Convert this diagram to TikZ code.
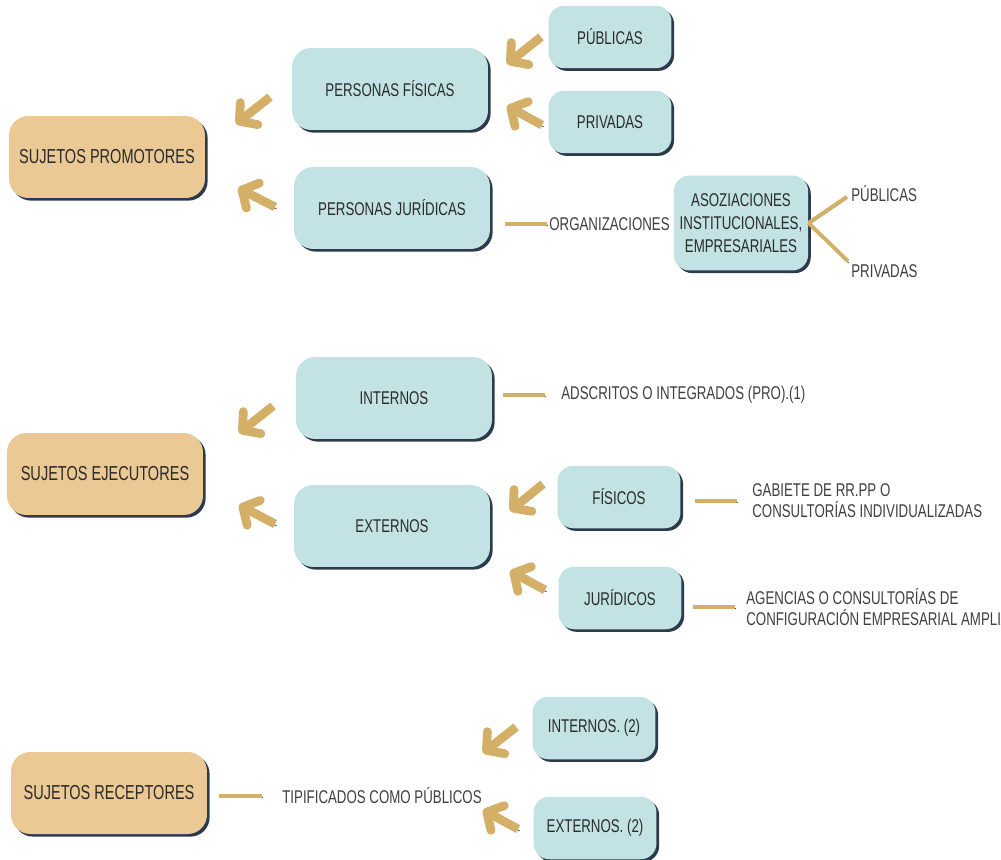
\documentclass[tikz,border=0pt]{standalone}
\usepackage{fontspec}
\setmainfont[FakeStretch=0.72]{Liberation Sans}
\usetikzlibrary{arrows.meta,shadows}
\definecolor{tostado}{HTML}{EBC995}
\definecolor{celeste}{HTML}{C2E2E3}
\definecolor{marino}{HTML}{2C3A4E}
\definecolor{dorado}{HTML}{D4AF68}
\definecolor{letra}{HTML}{2A2A2A}

\begin{document}
\begin{tikzpicture}[x=0.02cm, y=-0.02cm,
    caja/.style={rounded corners=11pt, text=letra, align=center,
      font=\fontsize{10.5}{13}\selectfont,
      drop shadow={shadow xshift=1.5pt, shadow yshift=-1.5pt, fill=marino, opacity=1}},
    sujeto/.style={caja, fill=tostado, minimum width=3.92cm, minimum height=1.64cm,
      font=\fontsize{11.5}{13}\selectfont},
    rama/.style={caja, fill=celeste, minimum width=3.92cm, minimum height=1.64cm},
    hoja/.style={caja, fill=celeste, rounded corners=9pt, minimum width=2.46cm, minimum height=1.25cm},
    nota/.style={text=letra!90, font=\fontsize{10.5}{12}\selectfont, inner sep=0pt, align=left, anchor=west},
    flechon/.style={line width=5pt, draw=dorado, -{Straight Barb[length=7pt, width=16pt, round]},
      preaction={draw=marino, transform canvas={shift={(0.9pt,-1.1pt)}}}},
    enlace/.style={line width=2.2pt, draw=dorado,
      preaction={draw=marino, transform canvas={shift={(0.3pt,-0.8pt)}}}}]
  \useasboundingbox[fill=white] (0,0) rectangle (1001,859);

  % sujetos promotores
  \node[sujeto] (promotores) at (107,157) {SUJETOS PROMOTORES};
  \node[rama] (fisicas) at (390,89) {PERSONAS FÍSICAS};
  \node[rama] (juridicas) at (392,208) {PERSONAS JURÍDICAS};
  \node[hoja] (publicas) at (610,37) {PÚBLICAS};
  \node[hoja] (privadas) at (610,122) {PRIVADAS};
  \node[nota] (organiz) at (549,224) {ORGANIZACIONES};
  \node[hoja, minimum width=2.58cm, minimum height=1.9cm] (asoc) at (741,223)
    {ASOZIACIONES\\INSTITUCIONALES,\\EMPRESARIALES};
  \node[nota] (publicasb) at (851,194) {PÚBLICAS};
  \node[nota] (privadasb) at (851,271) {PRIVADAS};

  % sujetos ejecutores
  \node[sujeto] (ejecutores) at (105,474) {SUJETOS EJECUTORES};
  \node[rama] (internos) at (394,398) {INTERNOS};
  \node[rama] (externos) at (392,526) {EXTERNOS};
  \node[nota] (adscritos) at (561,395) {ADSCRITOS O INTEGRADOS (PRO).(1)};
  \node[hoja] (fisicos) at (619,497) {FÍSICOS};
  \node[hoja] (juridicos) at (620,598) {JURÍDICOS};
  \node[nota] (gabinete) at (752,501) {GABIETE DE RR.PP O\\CONSULTORÍAS INDIVIDUALIZADAS};
  \node[nota] (agencias) at (746,607) {AGENCIAS O CONSULTORÍAS DE\\CONFIGURACIÓN EMPRESARIAL AMPLIA};

  % sujetos receptores
  \node[sujeto] (receptores) at (109,793) {SUJETOS RECEPTORES};
  \node[nota] (tipificados) at (282,796) {TIPIFICADOS COMO PÚBLICOS};
  \node[hoja] (internosb) at (594,728) {INTERNOS. (2)};
  \node[hoja] (externosb) at (595,828) {EXTERNOS. (2)};

  % lineas
  \draw[enlace, shorten <=0.3cm, shorten >=0.04cm] (juridicas.east |- organiz.west) -- (organiz.west);
  \draw[enlace, shorten >=0.1cm] (asoc.east) -- (publicasb.west);
  \draw[enlace, shorten >=0.08cm] (asoc.east) -- (privadasb.north west);
  \draw[enlace, shorten <=0.22cm, shorten >=0.32cm] (internos.east |- adscritos.west) -- (adscritos.west);
  \draw[enlace, shorten <=0.28cm, shorten >=0.3cm] (fisicos.east |- gabinete.west) -- (gabinete.west);
  \draw[enlace, shorten <=0.22cm, shorten >=0.22cm] (juridicos.east |- agencias.west) -- (agencias.west);
  \draw[enlace, shorten <=0.24cm, shorten >=0.4cm] (receptores.east |- tipificados.west) -- (tipificados.west);

  % flechas
  \coordinate (f1) at (270,97);  \coordinate (t1) at (236,124);
  \coordinate (f2) at (275,207); \coordinate (t2) at (238,188);
  \coordinate (f3) at (541,37);  \coordinate (t3) at (507,64);
  \coordinate (f4) at (542,125); \coordinate (t4) at (507,106);
  \coordinate (f5) at (273,406); \coordinate (t5) at (239,433);
  \coordinate (f6) at (275,524); \coordinate (t6) at (239,505);
  \coordinate (f7) at (543,484); \coordinate (t7) at (510,511);
  \coordinate (f8) at (545,590); \coordinate (t8) at (510,571);
  \coordinate (f9) at (516,727); \coordinate (t9) at (483,753);
  \coordinate (f10) at (518,829); \coordinate (t10) at (483,810);
  \draw[flechon] (f1) -- (t1);
  \draw[flechon] (f2) -- (t2);
  \draw[flechon] (f3) -- (t3);
  \draw[flechon] (f4) -- (t4);
  \draw[flechon] (f5) -- (t5);
  \draw[flechon] (f6) -- (t6);
  \draw[flechon] (f7) -- (t7);
  \draw[flechon] (f8) -- (t8);
  \draw[flechon] (f9) -- (t9);
  \draw[flechon] (f10) -- (t10);
\end{tikzpicture}
\end{document}
